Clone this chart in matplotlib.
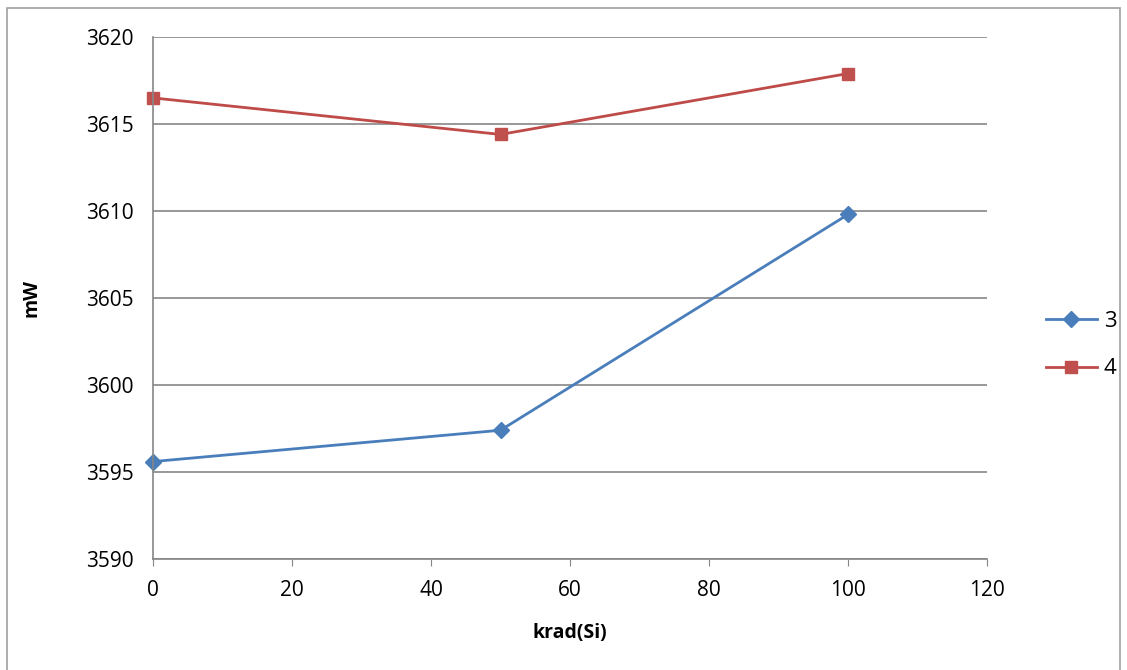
import matplotlib.pyplot as plt
from matplotlib.patches import Rectangle

krad = [0, 50, 100]
s3 = [3595.6, 3597.4, 3609.8]
s4 = [3616.5, 3614.4, 3617.9]
names = ['3', '4']

plt.rcParams['font.family'] = ['Open Sans', 'DejaVu Sans']

fig = plt.figure(figsize=(11.27, 6.70), dpi=100)
ax = fig.add_axes([153/1127, 1-559/670, (987-153)/1127, (559-37)/670])

fig.patches.append(Rectangle((7/1127, -0.1), (1120-7)/1127, 1.1-8/670,
                             transform=fig.transFigure, fill=False,
                             edgecolor='#a0a0a0', linewidth=1.2))

ax.plot(krad, s3, color='#4a7ebb', linewidth=2, marker='D', markersize=8,
        markerfacecolor='#4a7ebb', markeredgecolor='#4a7ebb', label=names[0])
ax.plot(krad, s4, color='#be4b48', linewidth=2, marker='s', markersize=9,
        markerfacecolor='#c0504d', markeredgecolor='#c0504d', label=names[1])

ax.set_xlim(0, 120)
ax.set_ylim(3590, 3620)
ax.set_xticks(range(0, 121, 20))
ax.set_yticks(range(3590, 3621, 5))
ax.grid(axis='y', color='#868686', linewidth=1.2)
ax.set_axisbelow(True)
for s in ['top', 'right']:
    ax.spines[s].set_visible(False)
for s in ['left', 'bottom']:
    ax.spines[s].set_color('#868686')
    ax.spines[s].set_linewidth(1.2)
ax.tick_params(axis='y', length=0, labelsize=15, pad=14)
ax.tick_params(axis='x', length=5, color='#868686', labelsize=15, pad=10)
for l in ax.lines:
    l.set_clip_on(False)

ax.set_xlabel('krad(Si)', fontsize=14, fontweight='bold', labelpad=16)
ax.set_ylabel('mW', fontsize=14, fontweight='bold', labelpad=32)

ax.legend(loc='center left', bbox_to_anchor=(1.052, 0.41), frameon=False,
          fontsize=16, handlelength=2.3, labelspacing=1.2, handletextpad=0.3,
          borderaxespad=0.3)

fig.savefig('out.png', dpi=100)
